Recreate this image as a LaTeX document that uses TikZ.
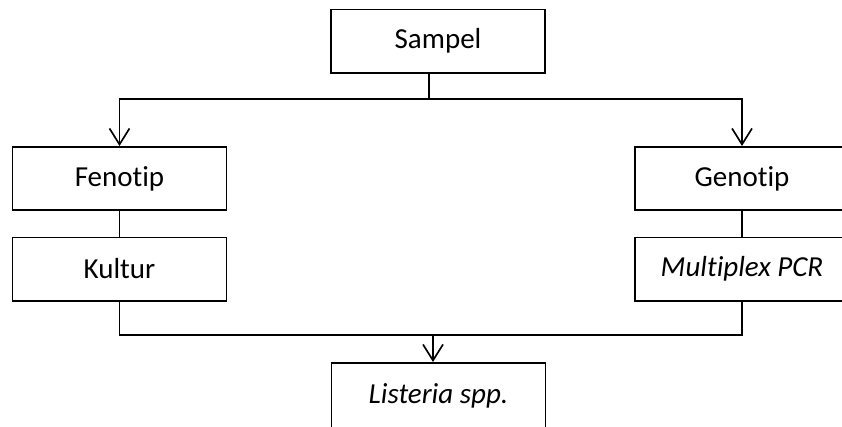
\documentclass[tikz,border=0pt]{standalone}
\usepackage{fontspec}
\setmainfont{Carlito}[Ligatures=NoCommon]
\usetikzlibrary{arrows.meta}
\begin{document}
\begin{tikzpicture}[x=0.75pt,y=-0.75pt,
  box/.style={draw,line width=1.25pt,rectangle,minimum width=160.5pt,minimum height=47.5pt,inner sep=0pt,font=\fontsize{21.75}{26}\selectfont},
  conn/.style={line width=1.25pt},
  arr/.style={line width=1.25pt,-{Straight Barb[length=12pt,width=15pt,line width=1.25pt]}}]
\useasboundingbox (0,0) rectangle (842,426);
\clip (0,0) rectangle (842,426);
\node[box] (sampel) at (438,41) {Sampel};
\node[box] (fenotip) at (119.5,178.5) {Fenotip};
\node[box] (kultur) at (119.5,269) {Kultur};
\node[box] (genotip) at (742,178.5) {Genotip};
\node[box] (multi) at (742,269) {\itshape Multiplex PCR};
\node[box,minimum height=49pt] (listeria) at (438.5,395.5) {\itshape Listeria spp.};
\coordinate (jt) at (429,99);
\coordinate (jb) at (433,335);
\draw[conn] (sampel.south -| jt) -- (jt);
\draw[arr] (jt) -| (fenotip.north);
\draw[arr] (jt) -| (genotip.north);
\draw[conn] (fenotip.south) -- (kultur.north);
\draw[conn] (genotip.south) -- (multi.north);
\draw[conn] (kultur.south) |- (jb) -| (multi.south);
\draw[arr] (jb) -- (jb |- listeria.north);
\end{tikzpicture}
\end{document}
